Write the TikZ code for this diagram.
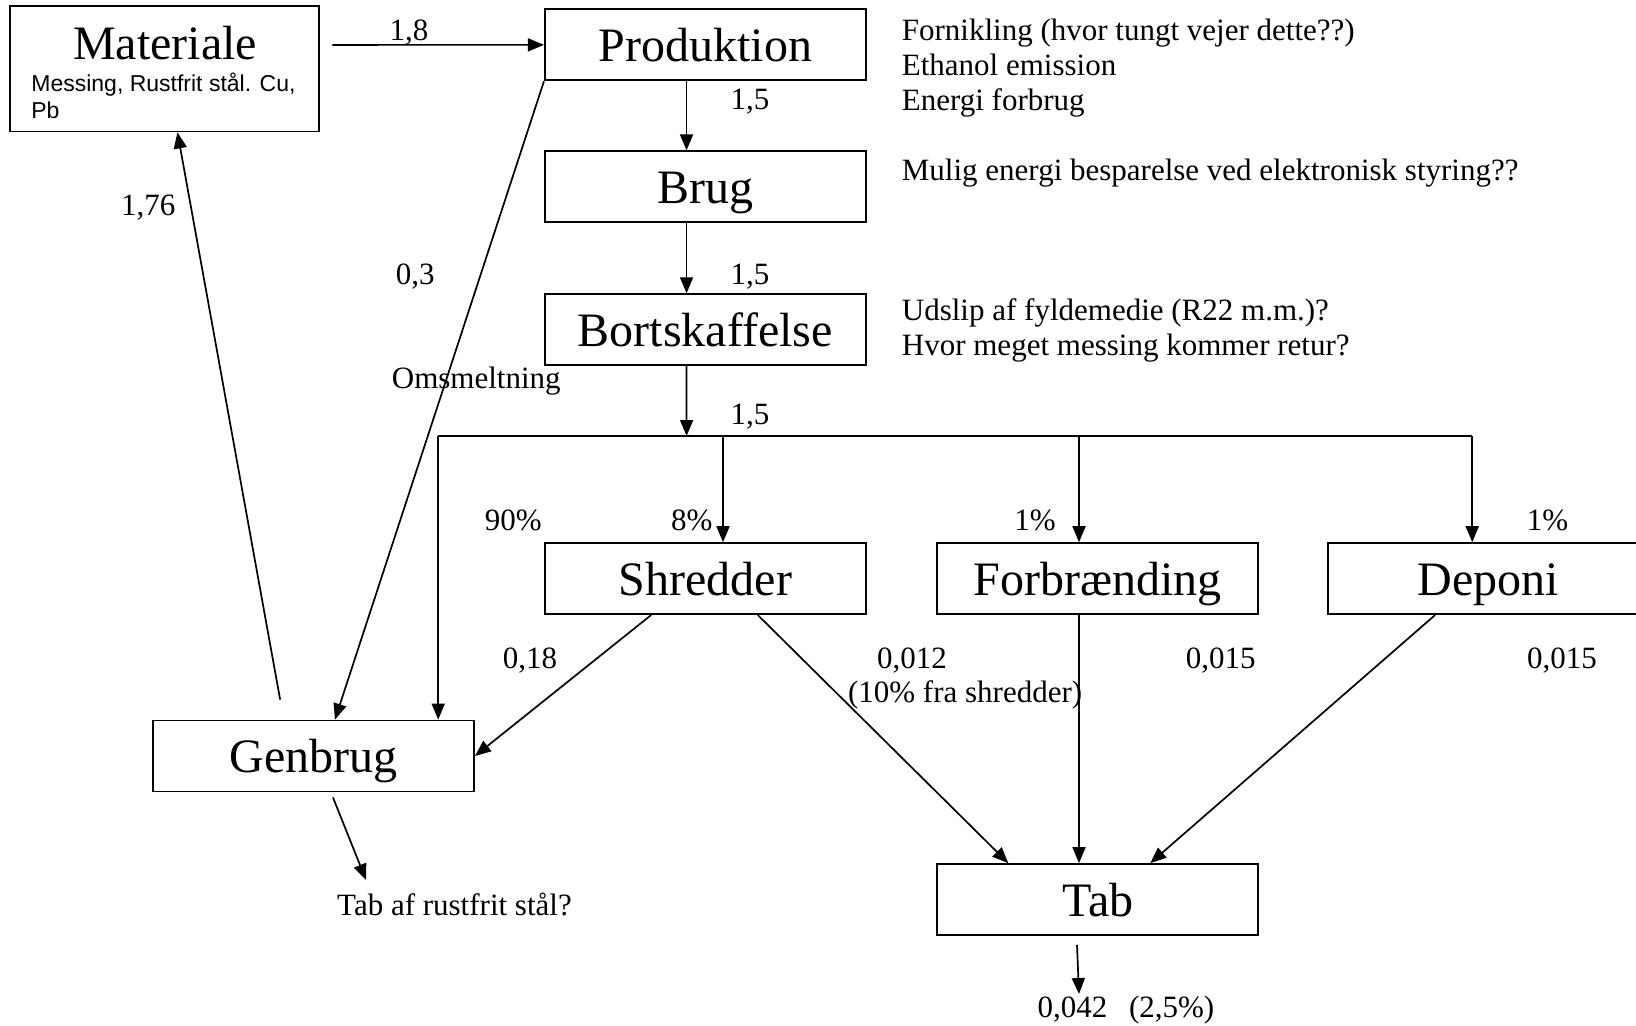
\documentclass[tikz,border=0pt]{standalone}
\usepackage{fontspec}
\setmainfont{Liberation Serif}
\setsansfont{Liberation Sans}
\usetikzlibrary{arrows.meta}

\tikzset{
  box/.style={draw, line width=0.9pt, minimum width=160.5pt, minimum height=35.5pt, inner sep=0pt, text height=16.5pt, text depth=0pt, font=\fontsize{24}{28}\selectfont},
  txt/.style={inner sep=0pt, yshift=-1.5pt, font=\fontsize{15.5}{17.5}\selectfont},
  flow/.style={line width=0.85pt, -{Triangle[length=8pt,width=6.5pt]}}
}

\begin{document}
\begin{tikzpicture}[x=0.5pt,y=-0.5pt]
\useasboundingbox (0,0) rectangle (1636,1025);
\node [box, minimum width=154.5pt, minimum height=62.6pt] (mat) at (164.85,68.9) {};
\node [box, draw=none, minimum height=0pt] (matname) at (165,43) {Materiale};
\node [anchor=west, align=left, inner sep=0pt, font=\sffamily\fontsize{11.5}{13.5}\selectfont] (matsub) at (31,96) {Messing, Rustfrit stål. Cu,\\Pb};
\node [box] (prod) at (705.35,44.85) {Produktion};
\node [box] (brug) at (705.35,186.75) {Brug};
\node [box] (bort) at (705.35,329.7) {Bortskaffelse};
\node [box] (shred) at (705.35,578.6) {Shredder};
\node [box] (forb) at (1097.7,578.6) {Forbrænding};
\node [box] (depo) at (1488.5,578.6) {Deponi};
\node [box] (gen) at (313.55,756) {Genbrug};
\node [box] (tab) at (1097.7,899.5) {Tab};

\node [txt, anchor=west, align=left] (noteprod) at (901.5,65) {Fornikling (hvor tungt vejer dette??)\\Ethanol emission\\Energi forbrug};
\node [txt, anchor=west] (notebrug) at (901.5,170) {Mulig energi besparelse ved elektronisk styring??};
\node [txt, anchor=west, align=left] (notebort) at (901.5,327) {Udslip af fyldemedie (R22 m.m.)?\\Hvor meget messing kommer retur?};

\node [txt] (l18) at (409,29.2) {1,8};
\node [txt] (l15a) at (750,99.1) {1,5};
\node [txt] (l15b) at (750,273.4) {1,5};
\node [txt] (l15c) at (750,413.2) {1,5};
\node [txt] (l176) at (148.2,204.5) {1,76};
\node [txt] (l03) at (415.3,273.4) {0,3};
\node [txt] (lomsm) at (476.3,377.7) {Omsmeltning};
\node [txt] (l90) at (513.3,517.5) {90\%};
\node [txt] (l8) at (691.8,517.5) {8\%};
\node [txt] (l1a) at (1035,517.5) {1\%};
\node [txt] (l1b) at (1547.4,517.5) {1\%};
\node [txt] (l018) at (530,657.3) {0,18};
\node [txt] (l0012) at (912,657.3) {0,012};
\node [txt] (lfra) at (965.1,691.8) {(10\% fra shredder)};
\node [txt] (l015a) at (1220.8,657.3) {0,015};
\node [txt] (l015b) at (1562,657.3) {0,015};
\node [txt] (res) at (1126,1007) {0,042\hspace{0.7em}(2,5\%)};
\node [txt] (tabrf) at (454.5,901.5) {Tab af rustfrit stål?};

\coordinate (split) at (686.6,436);
\coordinate (gx) at (438.2,436);
\coordinate (sx) at (723,436);
\coordinate (fx) at (1079,436);
\coordinate (dx) at (1472.2,436);
\coordinate (resarr) at (1079,994);
\coordinate (tabrfarr) at (366,880);

\draw [flow] ([xshift=6pt,yshift=12pt]mat.east) -- (prod.west);
\draw [flow] ([xshift=-9.4pt]prod.south) -- ([xshift=-9.4pt]brug.north);
\draw [flow] ([xshift=-9.4pt]brug.south) -- ([xshift=-9.4pt]bort.north);
\draw [flow] ([xshift=-9.4pt]bort.south) -- (split);
\draw [line width=0.85pt] (gx) -- (dx);
\draw [flow] (gx) -- (gx|-gen.north);
\draw [flow] (sx) -- (sx|-shred.north);
\draw [flow] (fx) -- (fx|-forb.north);
\draw [flow] (dx) -- (dx|-depo.north);
\draw [flow] (prod.south west) -- ([xshift=10.7pt]gen.north);
\draw [flow] ([xshift=64pt,yshift=10pt]gen.north west) -- ([xshift=6.3pt]mat.south);
\draw [flow] ([xshift=53.6pt]shred.south west) -- (gen.east);
\draw [flow] ([xshift=106.9pt]shred.south west) -- ([xshift=36pt]tab.north west);
\draw [flow] (fx|-forb.south) -- (fx|-tab.north);
\draw [flow] ([xshift=54pt]depo.south west) -- ([xshift=107pt]tab.north west);
\draw [flow] ([xshift=-10.35pt,yshift=-4.5pt]tab.south) -- (resarr);
\draw [flow] ([xshift=9.7pt,yshift=-2.5pt]gen.south) -- (tabrfarr);
\end{tikzpicture}
\end{document}
